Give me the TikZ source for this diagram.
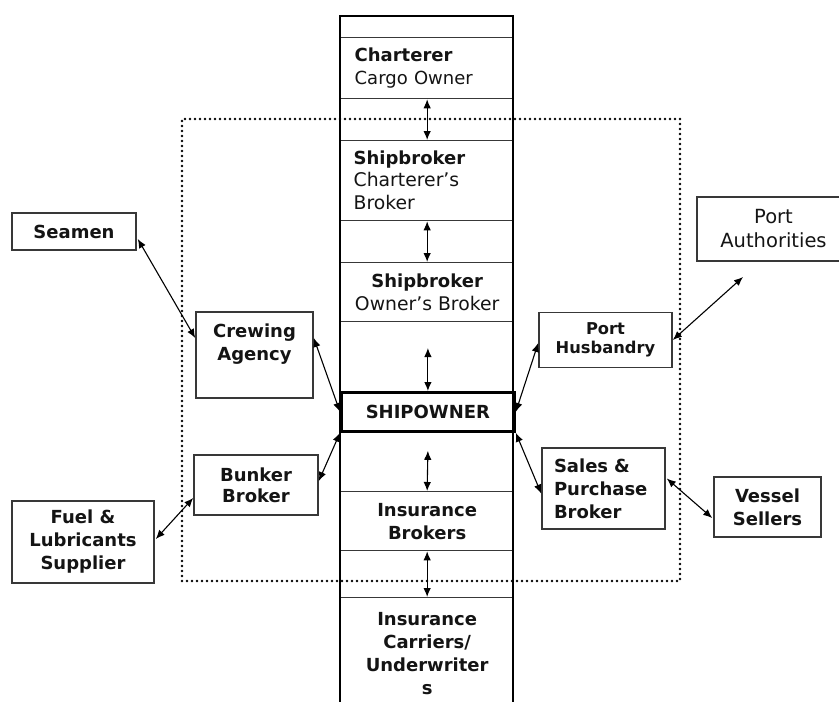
\documentclass[tikz,border=0pt]{standalone}
\usepackage{fontspec}
\setmainfont{DejaVu Sans}
\usetikzlibrary{arrows.meta,calc}
\definecolor{txt}{HTML}{141414}
\definecolor{edge}{HTML}{383838}
\begin{document}
\begin{tikzpicture}[x=1pt,y=-1pt,
  cell/.style={draw=edge, line width=1.3pt, minimum width=173pt, anchor=north west,
    inner sep=0pt, text=txt, font=\fontsize{18.8}{23}\selectfont, align=center},
  leftcell/.style={cell, align=left, inner xsep=14pt, text width=145pt},
  sidebox/.style={draw=edge, line width=1.6pt, inner sep=0pt, text=txt, align=center,
    font=\bfseries\fontsize{18}{23}\selectfont},
  lbl/.style={inner sep=0pt, text=txt, align=center, font=\bfseries\fontsize{18}{23}\selectfont},
  dotbox/.style={draw=black, line width=2.6pt, line cap=round, dash pattern=on 0pt off 5pt},
  conn/.style={{Latex[length=9pt,width=7.5pt]}-{Latex[length=9pt,width=7.5pt]}, line width=1.1pt, black},
  colline/.style={line width=2.8pt, black}
]
\useasboundingbox (0,0) rectangle (839,702);

% dotted region
\node[dotbox, minimum width=498pt, minimum height=462pt, inner sep=0pt] (region) at (431,350) {};

% central column cells
\node[cell, minimum height=21pt] (topcell) at (340,16) {};
\node[leftcell, minimum height=61pt] (charterer) at (340,37) {\fontsize{18}{23}\selectfont\textbf{Charterer}\\Cargo Owner};
\node[leftcell, inner xsep=13pt, text width=147pt, minimum height=80pt] (sbc) at (340,140) {\fontsize{18}{23}\selectfont\textbf{Shipbroker}\\\fontsize{18.8}{22}\selectfont Charterer’s\\Broker};
\node[cell, minimum height=59pt] (sbo) at (340,262) {\fontsize{18}{23}\selectfont\textbf{Shipbroker}\\\fontsize{18.8}{22}\selectfont Owner’s Broker};
\node[cell, line width=2.8pt, draw=black, minimum height=39pt, font=\bfseries\fontsize{18}{23}\selectfont] (own) at (340,391) {SHIPOWNER};
\node[cell, minimum height=59pt, font=\bfseries\fontsize{18}{23}\selectfont] (insb) at (340,491) {Insurance\\Brokers};
\node[cell, minimum height=112pt, font=\bfseries\fontsize{18}{23}\selectfont] (insc) at (340,597) {Insurance\\Carriers/\\Underwriter\\s};

% thick column borders
\coordinate (ctl) at (340,16);
\coordinate (ctr) at (513,16);
\coordinate (cbl) at (340,702);
\coordinate (cbr) at (513,702);
\draw[colline] (ctl) -- (cbl);
\draw[colline] (ctr) -- (cbr);
\draw[colline, line cap=rect] (ctl) -- (ctr);

% side boxes
\node[sidebox, minimum width=124pt, minimum height=37pt] (seamen) at (74,231.5) {Seamen};
\node[sidebox, minimum width=117pt, minimum height=86pt] (crew) at (254.5,355) {};
\node[lbl] (crewtxt) at (254.5,344) {Crewing\\Agency};
\node[sidebox, minimum width=124pt, minimum height=60pt, font=\bfseries\fontsize{18}{21}\selectfont] (bunker) at (256,485) {Bunker\\Broker};
\node[sidebox, minimum width=142pt, minimum height=82pt] (fuel) at (83,542) {Fuel \&\\Lubricants\\Supplier};
\node[sidebox, minimum width=133pt, minimum height=55pt, font=\bfseries\fontsize{16.3}{19}\selectfont] (porthus) at (605.5,340) {Port\\Husbandry};
\node[sidebox, minimum width=153pt, minimum height=64pt, font=\fontsize{19.5}{24}\selectfont] (portauth) at (773.5,229) {Port\\Authorities};
\node[sidebox, minimum width=123pt, minimum height=81pt, align=left, inner xsep=12pt, text width=99pt] (sales) at (603.5,488.5) {Sales \&\\Purchase\\Broker};
\node[sidebox, minimum width=107pt, minimum height=60pt] (vessel) at (767.5,507) {Vessel\\Sellers};

% central vertical connectors
\draw[conn] (charterer.south) -- (sbc.north);
\draw[conn] (sbc.south) -- (sbo.north);
\draw[conn] ($(own.north)+(0,-43)$) -- (own.north);
\draw[conn] ($(own.south)+(0,18)$) -- (insb.north);
\draw[conn] (insb.south) -- (insc.north);

% side connectors
\draw[conn] ($(seamen.east)+(1,7.5)$) -- ($(crew.west)+(0,-17)$);
\draw[conn] ($(crew.east)+(0,-17)$) -- (own.west);
\draw[conn] ($(bunker.east)+(0,-4)$) -- (own.south west);
\draw[conn] ($(fuel.east)+(1,-3)$) -- ($(bunker.west)+(0,13)$);
\draw[conn] (own.east) -- ($(porthus.west)+(0,3)$);
\coordinate (pa) at (743,277);
\draw[conn] (porthus.east) -- (pa);
\draw[conn] (own.south east) -- ($(sales.west)+(0,5)$);
\draw[conn] ($(sales.east)+(1,-10)$) -- ($(vessel.west)+(-1,11)$);
\end{tikzpicture}
\end{document}
